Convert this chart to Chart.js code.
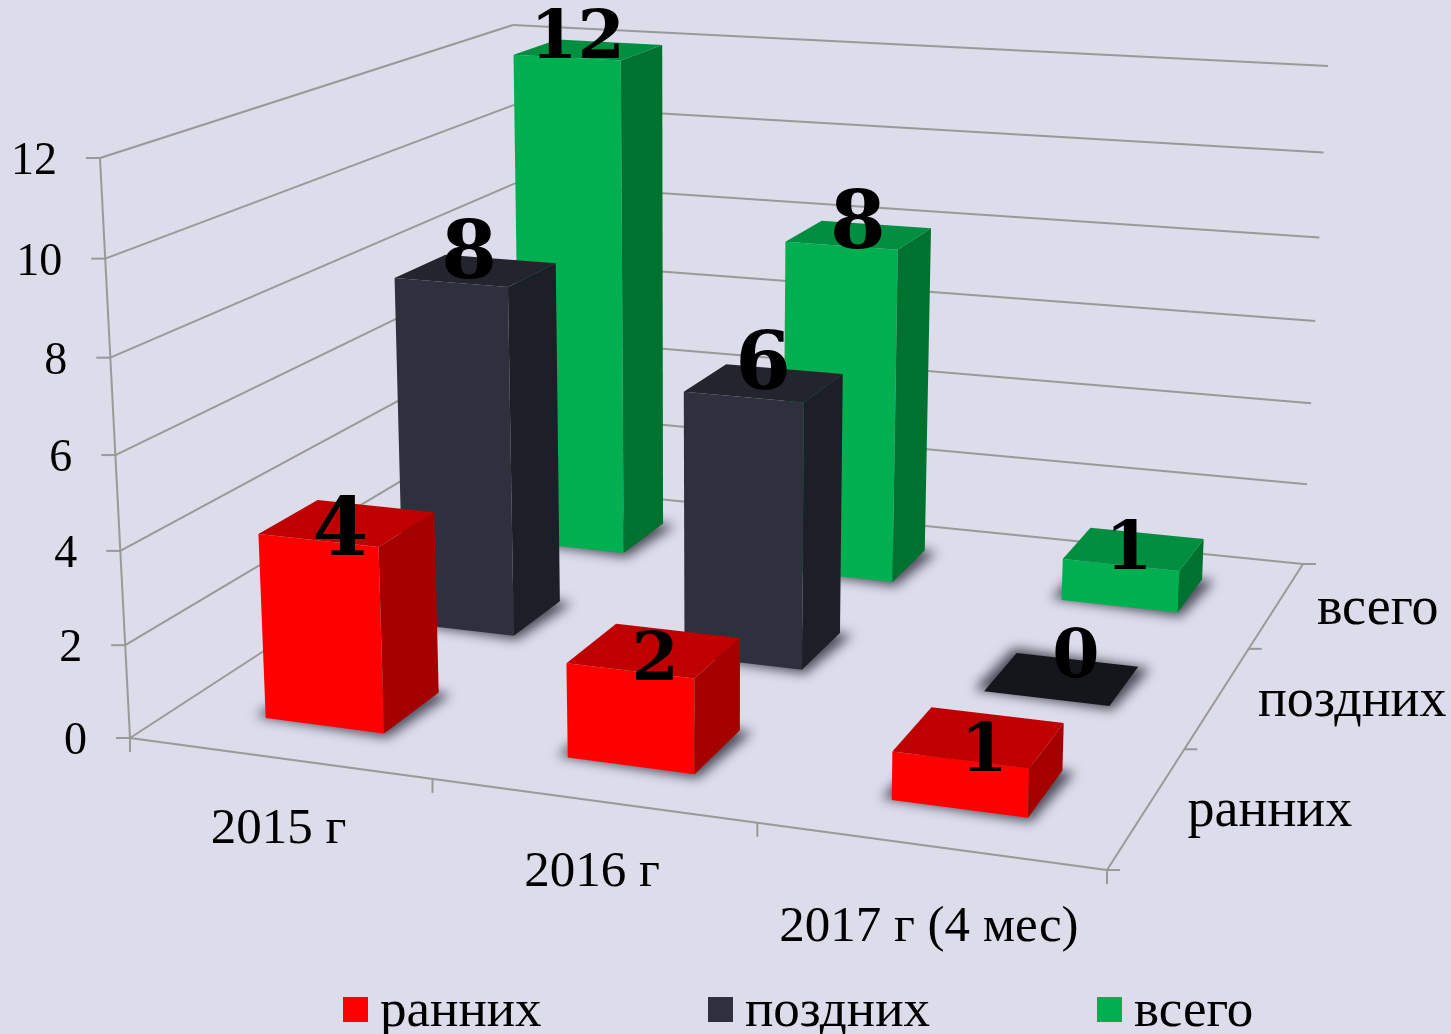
<!DOCTYPE html>
<html>
<head>
<meta charset="utf-8">
<style>
  html, body { margin: 0; padding: 0; background: #dcdcea; overflow: hidden; }
  canvas { display: block; }
</style>
<script src="https://cdn.jsdelivr.net/npm/chart.js@4"></script>
</head>
<body>
<canvas id="grafico" width="1451" height="1034"></canvas>
<script>
// data
const years = ['2015 г', '2016 г', '2017 г (4 мес)'];
const rows = ['ранних', 'поздних', 'всего'];
const earlyValues = [4, 2, 1];
const lateValues = [8, 6, 0];
const totalValues = [12, 8, 1];
const yTicks = [0, 2, 4, 6, 8, 10, 12];

// corners of the floor and of the ceiling of the 3D box on screen: front-left, front-right, back-right, back-left
const FLOOR = [[130, 738], [1107, 870], [1303, 564], [519, 485]];
const CEIL = [[100, 158], [1126, 228], [1328, 66], [513, 25]];
const HEIGHT_PERSP = 1.05;
const BAR_FRAC = 0.4;
const BAR_SHIFT = 0.001;
const GRID = '#999999';
const TEXT_FONT = '"Liberation Serif", serif';
const LABEL_FONT = '"DejaVu Serif", serif';

// value label nudges in px from the centre of the bar top, per series and year
const LABEL_NUDGE = [
    [[-7, 32], [1, 30], [5, 34]],
    [[-7, 7], [-1, 6], [14, -2]],
    [[-11, 8], [-1, 13], [-5, 20]]
];

function makeQuad(p) {
    const dx1 = p[1][0] - p[2][0], dx2 = p[3][0] - p[2][0], sx = p[0][0] - p[1][0] + p[2][0] - p[3][0];
    const dy1 = p[1][1] - p[2][1], dy2 = p[3][1] - p[2][1], sy = p[0][1] - p[1][1] + p[2][1] - p[3][1];
    const den = dx1 * dy2 - dx2 * dy1;
    const g = (sx * dy2 - dx2 * sy) / den;
    const h = (dx1 * sy - sx * dy1) / den;
    const a = p[1][0] - p[0][0] + g * p[1][0], b = p[3][0] - p[0][0] + h * p[3][0];
    const d = p[1][1] - p[0][1] + g * p[1][1], e = p[3][1] - p[0][1] + h * p[3][1];
    return (u, v) => {
        const w = g * u + h * v + 1;
        return [(a * u + b * v + p[0][0]) / w, (d * u + e * v + p[0][1]) / w];
    };
}
const floorMap = makeQuad(FLOOR);
const ceilMap = makeQuad(CEIL);

// u, z, t all in 0..1 -> screen point
function project(u, z, t) {
    const f = floorMap(u, z), c = ceilMap(u, z);
    const s = t / (t + (1 - t) * HEIGHT_PERSP);
    return [f[0] + (c[0] - f[0]) * s, f[1] + (c[1] - f[1]) * s];
}

// fractions of the hidden scales
function uOf(chart, i) { const s = chart.scales.x; return (s.getPixelForValue(i) - s.left) / s.width; }
function zOf(chart, i) { const s = chart.scales.z; return (s.getPixelForValue(i) - s.left) / s.width; }
function tOf(chart, v) { const s = chart.scales.y; return (s.bottom - s.getPixelForValue(v)) / s.height; }

function poly(ctx, pts, color) {
    ctx.fillStyle = color;
    ctx.beginPath();
    pts.forEach((p, i) => i ? ctx.lineTo(p[0], p[1]) : ctx.moveTo(p[0], p[1]));
    ctx.closePath();
    ctx.fill();
}

function segment(ctx, a, b) {
    ctx.beginPath();
    ctx.moveTo(a[0], a[1]);
    ctx.lineTo(b[0], b[1]);
    ctx.stroke();
}

// bar controller that draws each bar as a box in the projected space
class Bar3D extends Chart.BarController {
    draw() {
        const chart = this.chart, ctx = chart.ctx, ds = this.getDataset();
        const zc = zOf(chart, this.index);
        const half = BAR_FRAC / 6;
        ds.data.forEach((v, i) => {
            const uc = uOf(chart, i) + BAR_SHIFT, t = tOf(chart, v);
            const u0 = uc - half, u1 = uc + half, z0 = zc - half, z1 = zc + half;
            const fl = project(u0, z0, t), fr = project(u1, z0, t), br = project(u1, z1, t), bl = project(u0, z1, t);
            const fl0 = project(u0, z0, 0), fr0 = project(u1, z0, 0), br0 = project(u1, z1, 0), bl0 = project(u0, z1, 0);
            // soft shadow on the floor, a bit wider than the footprint
            ctx.save();
            ctx.filter = 'blur(6px)';
            poly(ctx, [[fl0[0] - 10, fl0[1] - 2], [fr0[0] + 3, fr0[1] + 4], [br0[0] + 12, br0[1] + 2], [bl0[0] - 3, bl0[1] - 5]], 'rgba(50,50,65,0.85)');
            ctx.restore();
            if (v > 0) {
                poly(ctx, [fl0, fr0, fr, fl], ds.backgroundColor);
                poly(ctx, [fr0, br0, br, fr], ds.sideColor);
                poly(ctx, [fl, fr, br, bl], ds.topColor);
            } else {
                poly(ctx, [fl, fr, br, bl], ds.flatColor);
            }
        });
    }
}
Bar3D.id = 'bar3d';
Bar3D.defaults = Chart.BarController.defaults;
Chart.register(Bar3D);

const boxPlugin = {
    id: 'box3d',
    beforeDatasetsDraw(chart) {
        const ctx = chart.ctx;
        ctx.save();
        ctx.strokeStyle = GRID;
        ctx.lineWidth = 2;
        ctx.fillStyle = '#000';

        yTicks.forEach(v => {
            const t = tOf(chart, v);
            const fl = project(0, 0, t), bl = project(0, 1, t), br = project(1, 1, t);
            segment(ctx, fl, bl);
            segment(ctx, bl, br);
            segment(ctx, [fl[0] - 14, fl[1]], fl);
            ctx.font = '46px ' + TEXT_FONT;
            ctx.textAlign = 'right';
            ctx.textBaseline = 'middle';
            ctx.fillText(String(v), fl[0] - 43, fl[1] + 4);
        });
        segment(ctx, project(0, 0, 0), project(0, 0, 1));

        // floor outline
        segment(ctx, project(0, 0, 0), project(1, 0, 0));
        segment(ctx, project(1, 0, 0), project(1, 1, 0));

        // ticks under the floor
        for (let i = 0; i <= years.length; i++) {
            const p = project(i / years.length, 0, 0);
            segment(ctx, p, [p[0], p[1] + 14]);
        }
        for (let i = 0; i <= rows.length; i++) {
            const p = project(1, i / rows.length, 0);
            segment(ctx, p, [p[0] + 13, p[1]]);
        }

        ctx.font = '51px ' + TEXT_FONT;
        ctx.textBaseline = 'middle';
        ctx.textAlign = 'center';
        const yearDrop = [72, 72, 82];
        years.forEach((label, i) => {
            const p = project(uOf(chart, i), 0, 0);
            ctx.fillText(label, p[0], p[1] + yearDrop[i]);
        });
        ctx.font = '54px ' + TEXT_FONT;
        ctx.textAlign = 'left';
        rows.forEach((label, i) => {
            const p = project(1, zOf(chart, i), 0);
            ctx.fillText(label, p[0] + 40, p[1] + 5);
        });

        // legend along the bottom
        const legendX = [343, 708, 1097];
        ctx.font = '53px ' + TEXT_FONT;
        chart.data.datasets.forEach((ds, i) => {
            ctx.fillStyle = ds.backgroundColor;
            ctx.fillRect(legendX[i], 997, 25, 25);
            ctx.fillStyle = '#000';
            ctx.fillText(ds.label, legendX[i] + 37, 1012);
        });
        ctx.restore();
    },
    afterDatasetsDraw(chart) {
        const ctx = chart.ctx;
        ctx.save();
        ctx.textAlign = 'center';
        ctx.textBaseline = 'alphabetic';
        ctx.fillStyle = '#000';
        chart.data.datasets.forEach((ds, d) => {
            ds.data.forEach((v, i) => {
                const p = project(uOf(chart, i) + BAR_SHIFT, zOf(chart, d), tOf(chart, v));
                // the reference has old-style figures: 4, 6, 8 stand taller than 0, 1, 2
                const tall = [4, 6, 8].includes(v);
                ctx.font = 'bold ' + (tall ? 80 : 68) + 'px ' + LABEL_FONT;
                ctx.fillText(String(v), p[0] + LABEL_NUDGE[d][i][0], p[1] + LABEL_NUDGE[d][i][1]);
            });
        });
        ctx.restore();
    }
};

new Chart(document.getElementById('grafico'), {
    type: 'bar3d',
    data: {
        labels: years,
        datasets: [
            { label: rows[0], data: earlyValues, backgroundColor: '#ff0000', topColor: '#c00000', sideColor: '#a50000', flatColor: '#c00000' },
            { label: rows[1], data: lateValues, backgroundColor: '#2f303d', topColor: '#23242e', sideColor: '#1d1f28', flatColor: '#15161c' },
            { label: rows[2], data: totalValues, backgroundColor: '#00b050', topColor: '#008e40', sideColor: '#00722f', flatColor: '#008e40' }
        ]
    },
    options: {
        responsive: false,
        animation: false,
        layout: { padding: 0 },
        plugins: { legend: { display: false }, tooltip: { enabled: false } },
        scales: {
            x: { type: 'category', display: false, offset: true },
            z: { type: 'category', axis: 'x', labels: rows, display: false, offset: true },
            y: { type: 'linear', display: false, min: 0, max: 12, ticks: { stepSize: 2 } }
        }
    },
    plugins: [boxPlugin]
});
</script>
</body>
</html>
